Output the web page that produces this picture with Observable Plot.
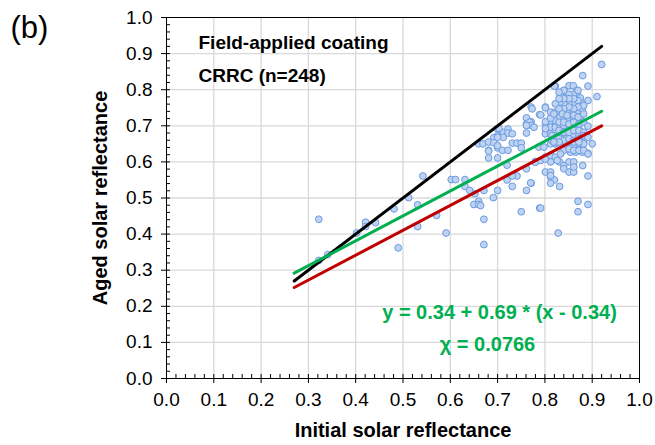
<!DOCTYPE html>
<html><head><meta charset="utf-8">
<script src="https://cdn.jsdelivr.net/npm/d3@7"></script>
<script src="https://cdn.jsdelivr.net/npm/@observablehq/plot@0.6"></script>
<style>
body{margin:0;background:#fff}
#chart svg{font-family:"Liberation Sans",Arial,sans-serif}
</style>
</head><body><div id="chart"></div>
<script>
// Initial (x) and aged (y) solar reflectance
const initialReflectance = [
  0.322,0.322,0.341,0.402,0.421,0.421,0.442,0.481,0.490,0.512,0.531,0.531,0.542,0.571,0.591,
  0.602,0.611,0.631,0.631,0.641,0.652,0.650,0.660,0.660,0.671,0.671,0.671,0.691,0.700,0.664,
  0.660,0.669,0.681,0.681,0.681,0.692,0.700,0.700,0.712,0.722,0.722,0.731,0.700,0.710,0.722,0.700,0.731,0.741,0.750,0.750,0.761,0.761,0.771,0.761,0.771,0.789,
  0.720,0.720,0.681,0.731,0.741,0.731,0.761,0.780,0.771,0.761,0.750,0.789,0.703,0.712,0.700,0.692,0.700,0.768,0.771,0.761,0.791,0.777,0.773,0.787,0.798,0.780,0.791,0.770,
  0.828,0.870,0.891,0.870,0.920,0.880,0.891,0.910,0.891,0.791,
  0.822,0.840,0.851,0.860,0.868,0.868,0.860,0.851,0.840,0.832,
  0.875,0.879,0.868,0.860,0.851,0.840,0.832,0.822,
  0.801,0.812,0.822,0.832,0.840,0.851,0.860,0.868,0.879,
  0.812,0.822,0.832,0.840,0.851,0.860,0.868,0.875,
  0.801,0.812,0.822,0.832,0.840,0.851,0.861,0.872,
  0.801,0.812,0.822,0.832,0.840,0.851,0.861,0.872,0.882,0.889,0.900,
  0.812,0.822,0.832,0.840,0.851,0.861,0.872,0.882,
  0.801,0.820,0.801,0.812,0.819,0.801,0.815,0.815,0.825,
  0.870,0.861,0.851,0.840,0.830,0.882,0.870,0.861,0.851,0.840,0.830,
  0.837,0.847,0.861,0.870,0.882,0.830,0.840,0.851,0.861,0.872,0.882,
  0.891,0.830,0.840,0.851,0.861,0.872,0.882,0.830,0.840,0.851,0.861,
  0.872,0.882,0.891,0.840,0.854,0.865,0.879,0.891,0.870,0.840,0.830,
  0.801,0.812,0.822,0.833,0.851,0.861,0.872,0.882,0.891,0.882,0.812,
  0.831,0.840,0.851,0.861,0.840,0.851,0.861,0.861,0.880,0.891,0.801,
  0.812,0.812,0.820,0.812,0.831,0.830,0.819,0.861,0.872,
  0.801,0.826,0.812
];
const agedReflectance = [
  0.441,0.327,0.343,0.403,0.433,0.421,0.432,0.470,0.362,0.501,0.481,0.421,0.561,0.452,0.403,
  0.551,0.551,0.551,0.532,0.521,0.512,0.482,0.491,0.482,0.521,0.441,0.371,0.501,0.521,0.479,
  0.650,0.650,0.655,0.632,0.611,0.667,0.672,0.691,0.682,0.691,0.680,0.678,0.639,0.632,0.632,0.611,0.652,0.652,0.652,0.639,0.722,0.705,0.711,0.680,0.752,0.731,
  0.550,0.591,0.630,0.532,0.561,0.561,0.581,0.601,0.541,0.521,0.462,0.472,0.693,0.668,0.668,0.653,0.645,0.710,0.701,0.701,0.730,0.696,0.747,0.641,0.641,0.599,0.604,0.542,
  0.403,0.491,0.482,0.462,0.870,0.839,0.810,0.781,0.770,0.472,
  0.810,0.798,0.811,0.811,0.798,0.787,0.787,0.787,0.779,0.787,
  0.777,0.761,0.761,0.761,0.761,0.761,0.766,0.761,
  0.752,0.738,0.738,0.738,0.738,0.738,0.738,0.738,0.747,
  0.713,0.715,0.724,0.715,0.715,0.715,0.715,0.724,
  0.701,0.696,0.696,0.701,0.701,0.701,0.691,0.691,
  0.678,0.678,0.673,0.673,0.680,0.678,0.673,0.673,0.678,0.669,0.650,
  0.650,0.650,0.659,0.657,0.650,0.645,0.650,0.655,
  0.750,0.810,0.711,0.721,0.733,0.692,0.673,0.659,0.653,
  0.770,0.775,0.775,0.775,0.775,0.756,0.752,0.747,0.752,0.747,0.747,
  0.733,0.729,0.729,0.724,0.733,0.710,0.710,0.705,0.710,0.705,0.710,
  0.699,0.687,0.682,0.682,0.687,0.687,0.682,0.664,0.659,0.664,0.659,
  0.664,0.673,0.668,0.632,0.627,0.627,0.627,0.624,0.798,0.798,0.793,
  0.613,0.618,0.613,0.622,0.636,0.632,0.632,0.632,0.622,0.650,0.600,
  0.600,0.590,0.600,0.600,0.581,0.572,0.572,0.586,0.590,0.561,0.572,
  0.572,0.558,0.550,0.541,0.532,0.655,0.655,0.655,0.655,
  0.608,0.604,0.562
];

// Lines: 1:1 line, fitted line, lower line (end points)
const lineX = [0.27, 0.92];
const identityY = [0.27, 0.92];
const fitY = [0.2917, 0.7402];
const lowerY = [0.252, 0.700];

const majorTicks = [0.0,0.1,0.2,0.3,0.4,0.5,0.6,0.7,0.8,0.9,1.0];
const gridTicks = [0.1,0.2,0.3,0.4,0.5,0.6,0.7,0.8,0.9];
const minorTicks = d3.range(0, 51).map(i => i / 50);

const panelLabel = "(b)";
const titleLine1 = "Field-applied coating";
const titleLine2 = "CRRC (n=248)";
const equationText = "y = 0.34 + 0.69 * (x - 0.34)";
const chiText = "\u03C7 = 0.0766";
const xTitle = "Initial solar reflectance";
const yTitle = "Aged solar reflectance";

const points = initialReflectance.map((x, i) => ({x, y: agedReflectance[i]}));
const toLine = ys => lineX.map((x, i) => ({x, y: ys[i]}));

const font = "Liberation Sans, Arial, sans-serif";
const green = "#00b050";

const chart = Plot.plot({
  width: 655,
  height: 445,
  marginLeft: 166,
  marginRight: 16,
  marginTop: 17,
  marginBottom: 67,
  style: {fontFamily: font, fontSize: "19px", color: "#000", background: "#fff", overflow: "visible"},
  x: {domain: [0, 1], ticks: majorTicks, tickFormat: d3.format(".1f"), tickSize: 5, tickPadding: 9, label: null},
  y: {domain: [0, 1], ticks: majorTicks, tickFormat: d3.format(".1f"), tickSize: 5, tickPadding: 9, label: null},
  marks: [
    Plot.ruleX(gridTicks, {x: d => d, stroke: "#d9d9d9", strokeWidth: 1.3}),
    Plot.ruleY(gridTicks, {y: d => d, stroke: "#d9d9d9", strokeWidth: 1.3}),
    Plot.dot(points, {x: "x", y: "y", r: 3.4, fill: "#bed2f2", stroke: "#6b9be0", strokeWidth: 1}),
    Plot.line(toLine(identityY), {x: "x", y: "y", stroke: "#000", strokeWidth: 3}),
    Plot.line(toLine(fitY), {x: "x", y: "y", stroke: green, strokeWidth: 3}),
    Plot.line(toLine(lowerY), {x: "x", y: "y", stroke: "#c00000", strokeWidth: 3}),
    Plot.frame({stroke: "#000", strokeWidth: 1}),
    Plot.ruleX(minorTicks, {x: d => d, y1: 0, y2: 0, insetTop: -4, stroke: "#000"}),
    Plot.ruleY(minorTicks, {y: d => d, x1: 0, x2: 0, insetRight: -4, stroke: "#000"}),
    Plot.text([titleLine1], {frameAnchor: "top-left", dx: 32, dy: 25, textAnchor: "start", lineAnchor: "middle", fontSize: 19, fontWeight: "bold", fill: "#000"}),
    Plot.text([titleLine2], {frameAnchor: "top-left", dx: 32, dy: 58, textAnchor: "start", lineAnchor: "middle", fontSize: 19, fontWeight: "bold", fill: "#000"}),
    Plot.text([equationText], {frameAnchor: "top-left", dx: 333, dy: 295, textAnchor: "middle", lineAnchor: "middle", fontSize: 20, fontWeight: "bold", fill: green}),
    Plot.text([chiText], {frameAnchor: "top-left", dx: 321, dy: 327, textAnchor: "middle", lineAnchor: "middle", fontSize: 20, fontWeight: "bold", fill: green}),
    Plot.text([xTitle], {frameAnchor: "bottom", dy: 52, textAnchor: "middle", lineAnchor: "middle", fontSize: 20, fontWeight: "bold", fill: "#000"}),
    Plot.text([yTitle], {frameAnchor: "left", dx: -66, rotate: -90, textAnchor: "middle", lineAnchor: "middle", fontSize: 20, fontWeight: "bold", fill: "#000"}),
    Plot.text([panelLabel], {frameAnchor: "top-left", dx: -156, dy: 11, textAnchor: "start", lineAnchor: "middle", fontSize: 31, fill: "#000"})
  ]
});
document.getElementById("chart").appendChild(chart);
</script>
</body></html>
